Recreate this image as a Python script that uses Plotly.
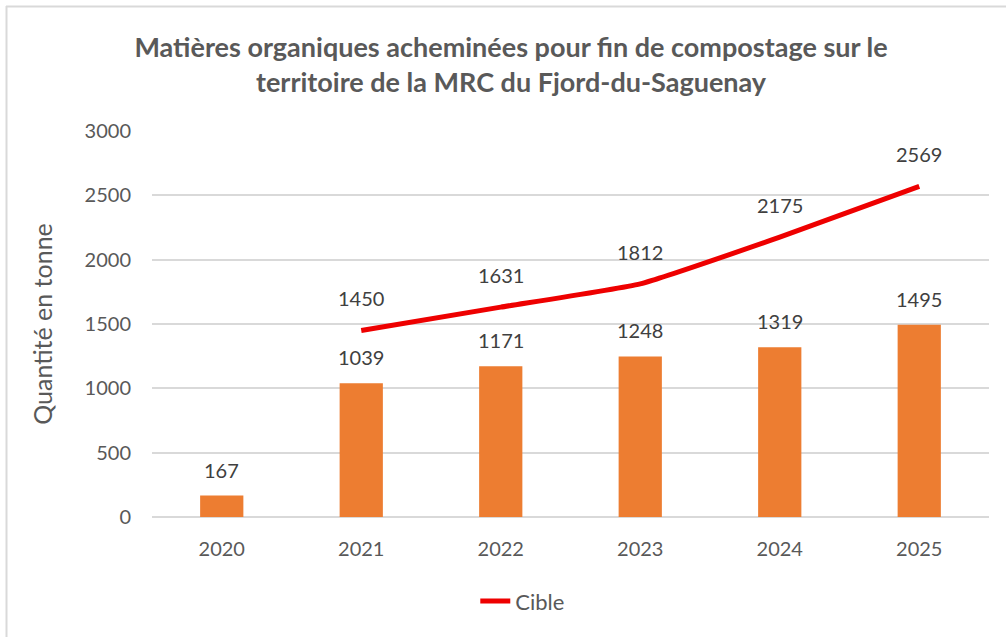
import plotly.graph_objects as go

years = ["2020", "2021", "2022", "2023", "2024", "2025"]
quantites = [167, 1039, 1171, 1248, 1319, 1495]
cible_years = ["2021", "2022", "2023", "2024", "2025"]
cible = [1450, 1631, 1812, 2175, 2569]

title_text = "Matières organiques acheminées pour fin de compostage sur le<br>territoire de la MRC du Fjord-du-Saguenay"
FONT = "Lato"

fig = go.Figure()
fig.add_trace(go.Bar(
    x=years, y=quantites, name="Quantité",
    marker=dict(color="#ED7D31", line=dict(width=0)),
    width=0.31, showlegend=False, hoverinfo="x+y",
))
fig.add_trace(go.Scatter(
    x=cible_years, y=cible, name="Cible", mode="lines",
    line=dict(color="#EE0000", width=5, shape="spline", smoothing=0.4),
))

annotations = []
for xv, yv in zip(years, quantites):
    annotations.append(dict(x=years.index(xv), y=yv, xref="x", yref="y", text=str(yv),
                            showarrow=False, yshift=26,
                            font=dict(family=FONT, size=20, color="#404040")))
for xv, yv in zip(cible_years, cible):
    annotations.append(dict(x=years.index(xv), y=yv, xref="x", yref="y", text=str(yv),
                            showarrow=False, yshift=32,
                            font=dict(family=FONT, size=20, color="#404040")))

fig.update_layout(
    width=1006, height=637,
    margin=dict(l=152, r=17, t=131, b=120, autoexpand=False),
    paper_bgcolor="white", plot_bgcolor="white",
    font=dict(family=FONT, color="#595959"),
    title=dict(text=title_text, x=0.508, xanchor="center", y=0.911, yanchor="middle",
               font=dict(family=FONT, size=27, color="#595959", weight="bold")),
    xaxis=dict(type="category", showgrid=False, showline=False, ticks="",
               tickfont=dict(family=FONT, size=20, color="#595959"),
               ticklabelstandoff=18, range=[-0.5, 5.5]),
    yaxis=dict(range=[0, 3000], dtick=500, showgrid=True, gridcolor="#D9D9D9", gridwidth=1.5,
               zeroline=True, zerolinecolor="#D9D9D9", zerolinewidth=2,
               showline=False, ticks="",
               tickfont=dict(family=FONT, size=20, color="#595959"),
               ticklabelstandoff=20,
               title=dict(text="Quantité en tonne", standoff=24,
                          font=dict(family=FONT, size=25, color="#595959"))),
    legend=dict(orientation="h", x=0.443, xanchor="center", y=-0.218, yanchor="middle",
                font=dict(family=FONT, size=22, color="#595959")),
    annotations=annotations,
    shapes=[
        dict(type="line", xref="paper", yref="paper", x0=(6 - 152) / 837, x1=(1006 - 152) / 837,
             y0=1 + (131 - 6.5) / 386, y1=1 + (131 - 6.5) / 386, line=dict(color="#D9D9D9", width=2)),
        dict(type="line", xref="paper", yref="paper", x0=(6.5 - 152) / 837, x1=(6.5 - 152) / 837,
             y0=1 + (131 - 6) / 386, y1=-(637 - 517) / 386, line=dict(color="#D9D9D9", width=2)),
    ],
    showlegend=True,
)

fig.write_html("out.html", config={"displayModeBar": False},
               post_script="document.body.style.margin='0px';")
